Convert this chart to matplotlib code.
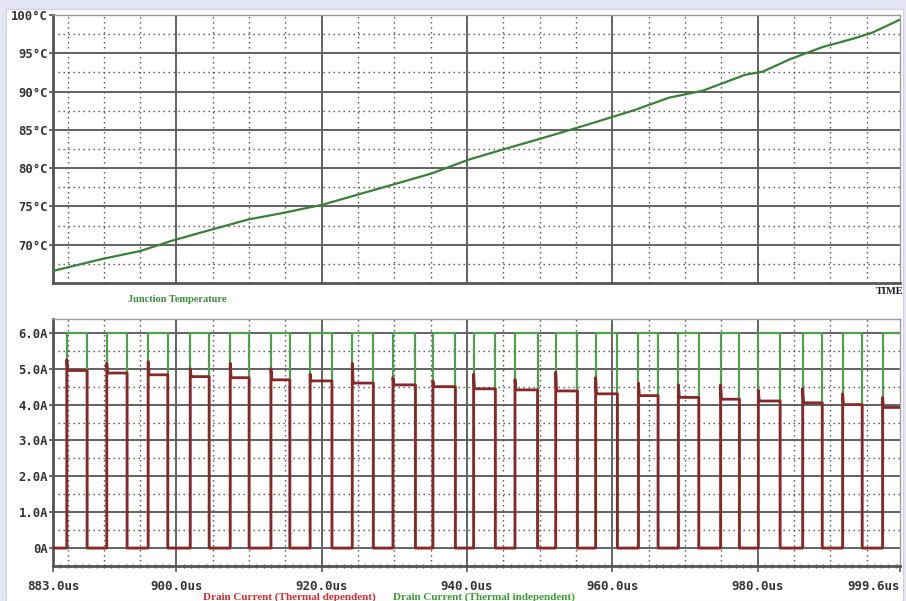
import matplotlib.pyplot as plt
from matplotlib.patches import Rectangle

W, H = 906, 601

# junction temperature (us, degC)
temp_time = [883.1, 889.6, 895.1, 899.3, 903.4, 909.9, 914.4, 920.0, 929.6, 935.1,
             940.2, 944.8, 950.3, 954.9, 960.4, 963.1, 967.8, 972.4, 978.3, 980.7,
             984.4, 988.9, 993.5, 995.8, 999.6]
temp_val = [66.6, 68.1, 69.2, 70.5, 71.6, 73.3, 74.1, 75.2, 77.8, 79.3,
            81.1, 82.4, 83.9, 85.2, 86.8, 87.6, 89.2, 90.1, 92.2, 92.6,
            94.2, 95.8, 97.0, 97.7, 99.4]

# gate pulses (us): switch-on / switch-off instants
pulse_on = [884.9, 890.4, 896.1, 901.9, 907.4, 913.0, 918.4, 924.2, 929.8, 935.3, 940.9,
            946.6, 952.2, 957.7, 963.6, 969.1, 974.9, 980.1, 986.2, 991.7, 997.2]
pulse_off = [887.7, 893.2, 898.8, 904.5, 910.0, 915.6, 921.4, 927.1, 932.9, 938.4, 943.9,
             949.7, 955.2, 960.7, 966.3, 971.9, 977.5, 983.1, 988.9, 994.4, 1002.0]

# drain current levels (A)
indep_level = [6.0] * 21
dep_spike = [5.25, 5.15, 5.2, 5.0, 5.15, 5.0, 4.85, 5.15, 4.75, 4.65, 4.85,
             4.7, 4.9, 4.75, 4.6, 4.55, 4.55, 4.4, 4.45, 4.3, 4.2]
dep_level = [4.95, 4.88, 4.83, 4.78, 4.75, 4.69, 4.66, 4.6, 4.55, 4.5, 4.44,
             4.41, 4.38, 4.3, 4.25, 4.2, 4.15, 4.1, 4.05, 4.0, 3.92]

temp_ticks = [70, 75, 80, 85, 90, 95, 100]
temp_labels = ['70°C', '75°C', '80°C', '85°C', '90°C', '95°C', '100°C']
cur_ticks = [0, 1, 2, 3, 4, 5, 6]
cur_labels = ['0A', '1.0A', '2.0A', '3.0A', '4.0A', '5.0A', '6.0A']
time_ticks = [883.0, 900.0, 920.0, 940.0, 960.0, 980.0, 999.6]
time_labels = ['883.0us', '900.0us', '920.0us', '940.0us', '960.0us', '980.0us', '999.6us']

T0, T1 = 883.0, 999.6


def waveform(on, off, top, settle=None):
    t, y = [T0], [0.0]
    for i in range(len(on)):
        if settle is None:
            t += [on[i], on[i], off[i], off[i]]
            y += [0.0, top[i], top[i], 0.0]
        else:
            t += [on[i], on[i], on[i] + 0.12, off[i], off[i]]
            y += [0.0, top[i], settle[i], settle[i], 0.0]
    return t, y


def grid(ax, ymajor, yminor):
    for x in [900, 920, 940, 960, 980]:
        ax.axvline(x, color='#626262', lw=1.4, zorder=1)
    for k in range(885, 1000, 5):
        if k % 20 != 0:
            ax.axvline(k, color='#4a4a4a', lw=1.0, ls=(0, (1, 2.6)), zorder=1)
    for v in ymajor:
        ax.axhline(v, color='#626262', lw=1.4, zorder=1)
    for v in yminor:
        ax.axhline(v, color='#4a4a4a', lw=1.0, ls=(0, (1, 2.6)), zorder=1)
    for s in ax.spines.values():
        s.set_color('#9a9a9a')
        s.set_linewidth(1.0)
    for s in ['left', 'bottom']:
        ax.spines[s].set_color('#555555')
        ax.spines[s].set_linewidth(2.0)
    ax.set_xlim(T0, T1)
    ax.tick_params(axis='y', length=3, width=1.2, color='#555555', pad=0.5,
                   labelsize=8.8, labelcolor='#333333')


fig = plt.figure(figsize=(W / 100, H / 100), dpi=100, facecolor='#e4e4f4')
fig.patches.append(Rectangle((6 / W, 0), 897 / W, 1 - 9 / H, transform=fig.transFigure,
                             facecolor='white', edgecolor='#cfcfdf', lw=0.8, zorder=-10))

mono = {'family': 'DejaVu Sans Mono', 'weight': 'bold'}
serif = {'family': 'Liberation Serif', 'weight': 'bold'}

# upper panel: junction temperature
ax1 = fig.add_axes([53 / W, 1 - 283 / H, 847 / W, 268 / H])
ax1.set_facecolor('none')
grid(ax1, [70, 75, 80, 85, 90, 95], [67.5, 72.5, 77.5, 82.5, 87.5, 92.5, 97.5])
ax1.plot(temp_time, temp_val, color='#3b7f3b', lw=1.6, zorder=3)
ax1.set_ylim(65, 100)
ax1.set_yticks(temp_ticks, temp_labels, fontdict=mono)
ax1.set_xticks([])

# lower panel: drain currents
ax2 = fig.add_axes([53 / W, 1 - 566 / H, 847 / W, 247.5 / H])
ax2.set_facecolor('none')
grid(ax2, [0, 1, 2, 3, 4, 5, 6], [0.5, 1.5, 2.5, 3.5, 4.5, 5.5])
gt, gy = waveform(pulse_on, pulse_off, indep_level)
rt, ry = waveform(pulse_on, pulse_off, dep_spike, dep_level)
ax2.plot(gt, gy, color='#4f9f4f', lw=1.6, zorder=3)
ax2.plot(rt, ry, color='#862828', lw=2.0, zorder=4)
ax2.set_ylim(-0.5, 6.4)
ax2.set_yticks(cur_ticks, cur_labels, fontdict=mono)
ax2.set_xticks(time_ticks, time_labels, fontdict=mono)
ax2.set_xticks(range(884, 1000), minor=True)
ax2.tick_params(axis='x', which='major', length=4, width=1.2, color='#555555',
                labelsize=9, labelcolor='#333333', pad=6)
ax2.tick_params(axis='x', which='minor', length=3, width=1.0, color='#555555',
                direction='inout')
ax2.get_xticklabels()[-1].set_horizontalalignment('right')
ax2.get_xticklabels()[-1].set_x(1001.8)

fig.text(177 / W, 1 - 299 / H, 'Junction Temperature', color='#3f8a3f', fontsize=7.5,
         ha='center', va='center', fontdict=serif)
fig.text(904 / W, 1 - 292 / H, 'TIME', color='#222222', fontsize=7.5,
         ha='right', va='center', fontdict=serif)
fig.text(289 / W, 1 - 597 / H, 'Drain Current (Thermal dependent)', color='#c83232',
         fontsize=8, ha='center', va='center', fontdict=serif)
fig.text(484 / W, 1 - 597 / H, 'Drain Current (Thermal independent)', color='#3c9a3c',
         fontsize=8, ha='center', va='center', fontdict=serif)

fig.savefig('out.png', dpi=100, facecolor=fig.get_facecolor())
